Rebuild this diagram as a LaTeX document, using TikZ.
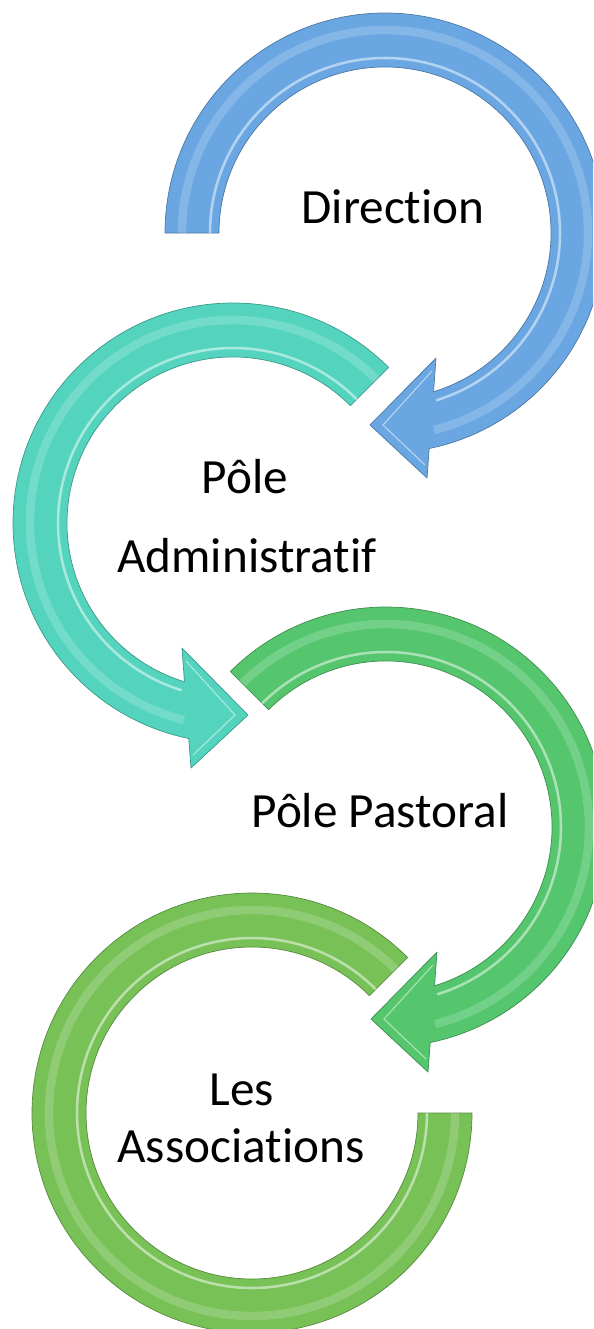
\documentclass[tikz,border=0pt]{standalone}
\usepackage{fontspec}
\setmainfont[Ligatures=NoCommon]{Carlito}
\usepackage{tikz}
\usetikzlibrary{arrows,shapes}
\definecolor{bluearrow}{HTML}{6AA7E2}
\definecolor{tealarrow}{HTML}{54D4BE}
\definecolor{greenarrow}{HTML}{55C66E}
\definecolor{limearrow}{HTML}{78C157}
\tikzstyle{ring} = [fill=#1, draw=#1!72!black, line width=0.5pt, line join=round]
\tikzstyle{shine} = [draw=white, line width=1.8pt, opacity=0.5, line cap=butt]
\tikzstyle{glow} = [draw=white, line width=6pt, opacity=0.18, line cap=butt]
\tikzstyle{caption} = [draw=none, anchor=base, inner sep=0pt, font=\fontsize{35}{42}\selectfont]

\begin{document}
\begin{tikzpicture}[x=0.025cm, y=0.025cm]
\useasboundingbox (0,0) rectangle (593,-1329);
\clip (0,0) rectangle (593,-1329);
% First we draw the three circular arrows

\foreach \cx/\cy/\flip/\from/\col in {
	385/-233/1/180/bluearrow,
	233/-523/-1/135/tealarrow,
	386/-827/1/135/greenarrow}
{
\begin{scope}[shift={(\cx,\cy)}, xscale=\flip]
\path[ring=\col] (\from:220) arc[start angle=\from, end angle=-78.4, radius=220]
	-- (42,-245) -- (-15,-192) -- (51,-125) -- (-73:166)
	arc[start angle=-73, end angle=\from, radius=166] -- cycle;
\draw[glow] (\from:203) arc[start angle=\from, end angle=-76, radius=203];
\draw[shine] (\from:175) arc[start angle=\from, end angle=-73, radius=175];
\draw[shine, line width=0.8pt] (40,-232) -- (-2,-192) -- (47,-138);
\end{scope}
}

% The last ring has no head
\begin{scope}[shift={(252,-1113)}, xscale=-1]
\path[ring=limearrow] (135:220) arc[start angle=135, end angle=-180, radius=220]
	-- (-180:166) arc[start angle=-180, end angle=135, radius=166] -- cycle;
\draw[glow] (135:203) arc[start angle=135, end angle=-180, radius=203];
\draw[shine] (135:175) arc[start angle=135, end angle=-180, radius=175];
\end{scope}

% Then the texts
\foreach \pos/\label/\name in {
	{(393,-223)/direction/Direction},
	{(245,-493)/pole/Pôle},
	{(247,-572)/admin/Administratif},
	{(380,-827)/pastoral/Pôle Pastoral},
	{(242,-1105)/les/Les},
	{(241,-1162)/assoc/Associations}}
\node[caption] (\label) at \pos {\name};

\end{tikzpicture}
\end{document}
